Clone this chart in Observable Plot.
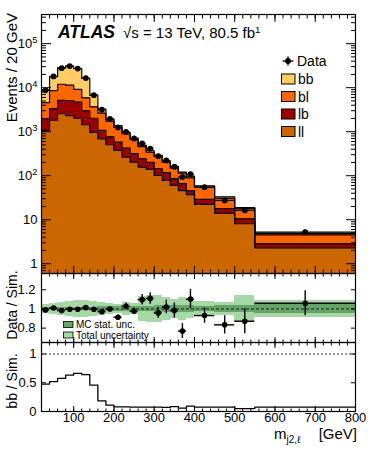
<!DOCTYPE html>
<html>
<head>
<meta charset="utf-8">
<script src="https://cdn.jsdelivr.net/npm/d3@7"></script>
<script src="https://cdn.jsdelivr.net/npm/@observablehq/plot@0.6"></script>
<style>
  html, body { margin: 0; padding: 0; background: #fff; }
  #wrap { position: relative; width: 374px; height: 456px; font-family: "Liberation Sans", Arial, Helvetica, sans-serif; }
  #wrap svg { position: absolute; left: 0; overflow: visible; background: transparent; }
</style>
</head>
<body>
<div id="wrap"></div>
<script>
// ---------------- data ----------------
const binEdges = [20,40,60,80,100,120,140,160,180,200,220,240,260,280,300,320,340,360,380,400,450,500,550,800];
const dataPerBin = [8700,18000,27700,31000,27200,16500,6770,3150,1950,1250,990,700,545,410,280,222,160,93,108,55,27.5,16.3,5.2];
const dataOverSim = [0.99,1.01,0.983,0.997,0.997,1.014,0.997,0.972,1.0,0.914,1.028,0.976,1.097,1.11,0.959,1.02,0.983,0.769,1.103,0.931,0.834,0.872,1.059];
const dataOverSimErr = [0.004,0.004,0.004,0.004,0.004,0.005,0.008,0.012,0.015,0.024,0.034,0.033,0.055,0.06,0.057,0.07,0.08,0.078,0.1,0.08,0.095,0.13,0.13];
const simBB = [4190,9270,16200,19710,18090,10410,3120,603,215,109,77,54,37,28,22,16,14,7,9,4.4,2.5,0.94,0.37];
const simBL = [2620,5210,6830,6260,4500,2870,1650,1570,975,679,462,347,217,139,126,85,64,48,43,25.7,12.7,7.3,1.7];
const simLB = [905,1520,2590,2790,2670,1550,1050,380,255,204,159,112,86,62,43,39,25,20,9,6.6,3.7,2.4,0.54];
const simLL = [1075,1820,2560,2330,2020,1440,970,690,505,376,265,204,157,140,101,78,60,46,37,22.3,14.1,8.1,2.3];
const totalUnc = [0.05,0.06,0.065,0.08,0.085,0.085,0.075,0.07,0.055,0.05,0.07,0.055,0.13,0.14,0.14,0.12,0.10,0.12,0.10,0.075,0.07,0.145,0.088];
const statUnc = [0.02,0.02,0.02,0.02,0.02,0.02,0.02,0.022,0.024,0.025,0.026,0.027,0.028,0.03,0.032,0.034,0.035,0.036,0.038,0.03,0.035,0.04,0.046];

const componentNames = ["bb","bl","lb","ll"];
const componentColors = {bb: "#ffcc66", bl: "#ff6600", lb: "#990000", ll: "#cc6600"};
const uncNames = ["MC stat. unc.", "Total uncertainty"];
const uncColors = ["#66a366", "#a6d8a6"];

const xMajorTicks = [100,200,300,400,500,600,700,800];
const xMinorTicks = d3.range(20, 801, 20);
const yMainTicks = [1,10,100,1000,10000,100000];
const yMainTickLabels = ["1","10","10^2","10^3","10^4","10^5"];
const ratioTicks = [0.8,1,1.2];
const ratioTickLabels = ["0.8","1","1.2"];
const fracTicks = [0,0.5,1];
const fracTickLabels = ["0","0.5","1"];

// ---------------- layout ----------------
const W = 374, ML = 41, MR = 19;
const yMainDomain = [0.6, 4.6e5];
const yRatioDomain = [0.65, 1.37];
const yFracDomain = [0, 1.2];
const FONT = '"Liberation Sans", Arial, Helvetica, sans-serif';

const yMinorMain = [];
for (let k = -1; k <= 5; k++) for (let m = 2; m <= 9; m++) {
  const v = m * Math.pow(10, k);
  if (v > yMainDomain[0] && v < yMainDomain[1]) yMinorMain.push(v);
}

const nb = dataPerBin.length;
const bins = d3.range(nb).map(i => {
  const b = {
    x1: binEdges[i], x2: binEdges[i+1], c: (binEdges[i] + binEdges[i+1]) / 2,
    data: dataPerBin[i], r: dataOverSim[i], re: dataOverSimErr[i],
    bb: simBB[i], bl: simBL[i], lb: simLB[i], ll: simLL[i],
    tu: totalUnc[i], su: statUnc[i]
  };
  b.sim = b.bb + b.bl + b.lb + b.ll;
  b.frac = b.bb / b.sim;
  b.de = b.data * b.re / b.r;
  return b;
});

// stacked layers, bottom -> top
const stackOrder = ["ll","lb","bl","bb"];
const rects = [], steps = [];
stackOrder.forEach((k, j) => {
  bins.forEach((b, i) => {
    let lo = 0;
    for (let m = 0; m < j; m++) lo += b[stackOrder[m]];
    const hi = lo + b[k];
    rects.push({x1: b.x1, x2: b.x2, y1: j === 0 ? yMainDomain[0] : lo, y2: hi, k});
    steps.push({k, x: b.x1, y: hi});
    if (i === nb - 1) steps.push({k, x: b.x2, y: hi});
  });
});
const fracSteps = bins.map(b => ({x: b.x1, y: b.frac}));
fracSteps.push({x: bins[nb-1].x2, y: bins[nb-1].frac});

// ---------------- helpers ----------------
const blank = () => "";
function xFrameTicks(majLen, minLen) {
  return [
    Plot.axisX({anchor: "bottom", ticks: xMajorTicks, tickSize: majLen, dy: -majLen, tickFormat: blank, label: null}),
    Plot.axisX({anchor: "bottom", ticks: xMinorTicks, tickSize: minLen, dy: -minLen, tickFormat: blank, label: null}),
    Plot.axisX({anchor: "top", ticks: xMajorTicks, tickSize: majLen, dy: majLen, tickFormat: blank, label: null}),
    Plot.axisX({anchor: "top", ticks: xMinorTicks, tickSize: minLen, dy: minLen, tickFormat: blank, label: null})
  ];
}
function yFrameTicks(ticks, len, minor, minLen) {
  const out = [
    Plot.axisY({anchor: "left", ticks, tickSize: len, dx: len, tickFormat: blank, label: null}),
    Plot.axisY({anchor: "right", ticks, tickSize: len, dx: -len, tickFormat: blank, label: null})
  ];
  if (minor) out.push(
    Plot.axisY({anchor: "left", ticks: minor, tickSize: minLen, dx: minLen, tickFormat: blank, label: null}),
    Plot.axisY({anchor: "right", ticks: minor, tickSize: minLen, dx: -minLen, tickFormat: blank, label: null})
  );
  return out;
}
const baseStyle = {fontFamily: FONT, fontSize: "13px", color: "black", background: "transparent", overflow: "visible"};

// ---------------- main panel ----------------
const mainLabelMap = new Map(yMainTicks.map((t, i) => [t, yMainTickLabels[i]]));
const mainSvg = Plot.plot({
  width: W, height: 273, marginTop: 14, marginBottom: 0, marginLeft: ML, marginRight: MR,
  style: baseStyle,
  x: {domain: [20, 800]},
  y: {type: "log", domain: yMainDomain},
  marks: [
    Plot.rect(rects, {x1: "x1", x2: "x2", y1: "y1", y2: "y2", fill: d => componentColors[d.k], shapeRendering: "crispEdges"}),
    Plot.line(steps, {x: "x", y: "y", z: "k", curve: "step-after", stroke: "black", strokeWidth: 1.2}),
    Plot.ruleX(bins, {x: "c", y1: d => d.data - d.de, y2: d => d.data + d.de, stroke: "black", strokeWidth: 1.4}),
    Plot.ruleY(bins, {y: "data", x1: "x1", x2: "x2", stroke: "black", strokeWidth: 1.2}),
    Plot.dot(bins, {x: "c", y: "data", r: 2.9, fill: "black", stroke: "none"}),
    Plot.frame({stroke: "black", strokeWidth: 1.2}),
    ...xFrameTicks(7, 3.5),
    ...yFrameTicks(yMainTicks, 10, yMinorMain, 5),
    Plot.axisY({anchor: "left", ticks: yMainTicks, tickSize: 0, tickPadding: 4, tickFormat: d => mainLabelMap.get(d), label: null, fontSize: 13})
  ]
});

// ---------------- ratio panel ----------------
const ratioLabelMap = new Map(ratioTicks.map((t, i) => [t, ratioTickLabels[i]]));
const ratioSvg = Plot.plot({
  width: W, height: 69, marginTop: 0, marginBottom: 0, marginLeft: ML, marginRight: MR,
  style: baseStyle,
  x: {domain: [20, 800]},
  y: {domain: yRatioDomain},
  marks: [
    Plot.rect(bins, {x1: "x1", x2: "x2", y1: d => 1 - d.tu, y2: d => 1 + d.tu, fill: uncColors[1], shapeRendering: "crispEdges"}),
    Plot.rect(bins, {x1: "x1", x2: "x2", y1: d => 1 - d.su, y2: d => 1 + d.su, fill: uncColors[0], shapeRendering: "crispEdges"}),
    Plot.ruleY([1], {stroke: "#222", strokeWidth: 1, strokeDasharray: "3,2"}),
    Plot.ruleX(bins, {x: "c", y1: d => d.r - d.re, y2: d => d.r + d.re, stroke: "black", strokeWidth: 1.4}),
    Plot.ruleY(bins, {y: "r", x1: "x1", x2: "x2", stroke: "black", strokeWidth: 1.4}),
    Plot.dot(bins, {x: "c", y: "r", r: 2.8, fill: "black", stroke: "none"}),
    Plot.frame({stroke: "black", strokeWidth: 1.2}),
    ...xFrameTicks(5, 2.5),
    ...yFrameTicks(ratioTicks, 5),
    Plot.axisY({anchor: "left", ticks: ratioTicks, tickSize: 0, tickPadding: 6, tickFormat: d => ratioLabelMap.get(d), label: null, fontSize: 13})
  ]
});

// ---------------- bb fraction panel ----------------
const fracLabelMap = new Map(fracTicks.map((t, i) => [t, fracTickLabels[i]]));
const fracSvg = Plot.plot({
  width: W, height: 114, marginTop: 0, marginBottom: 45, marginLeft: ML, marginRight: MR,
  style: baseStyle,
  x: {domain: [20, 800]},
  y: {domain: yFracDomain},
  marks: [
    Plot.ruleY([1], {stroke: "#222", strokeWidth: 0.9, strokeDasharray: "2,2"}),
    Plot.line(fracSteps, {x: "x", y: "y", curve: "step-after", stroke: "black", strokeWidth: 1.3}),
    Plot.frame({stroke: "black", strokeWidth: 1.2}),
    ...xFrameTicks(5, 2.5),
    ...yFrameTicks(fracTicks, 5),
    Plot.axisY({anchor: "left", ticks: fracTicks, tickSize: 0, tickPadding: 5, tickFormat: d => fracLabelMap.get(d), label: null, fontSize: 13}),
    Plot.axisX({anchor: "bottom", ticks: xMajorTicks, tickSize: 0, tickPadding: 1.5, label: null, fontSize: 13})
  ]
});

// ---------------- assemble ----------------
const wrap = document.getElementById("wrap");
[[mainSvg, 0], [ratioSvg, 273], [fracSvg, 342]].forEach(([s, top]) => {
  s.style.top = top + "px";
  s.style.maxWidth = "none";
  wrap.appendChild(s);
});

// superscripts for log labels
d3.select(mainSvg).selectAll("text").each(function() {
  const t = this.textContent;
  if (t.includes("^")) {
    const [base, exp] = t.split("^");
    const sel = d3.select(this);
    sel.text(base);
    sel.append("tspan").attr("dy", "-0.55em").attr("font-size", "0.72em").text(exp);
  }
});

function addText(svg, attrs, content) {
  const t = d3.select(svg).append("text").attr("font-family", FONT).attr("fill", "black").attr("text-anchor", "start");
  Object.entries(attrs).forEach(([k, v]) => t.attr(k, v));
  if (content != null) t.text(content);
  return t;
}

// main panel texts
addText(mainSvg, {x: 58, y: 37.5, "font-size": 17.5, "font-weight": "bold", "font-style": "italic"}, "ATLAS");
const lumi = addText(mainSvg, {x: 123, y: 37.5, "font-size": 15}, "√s = 13 TeV, 80.5 fb");
lumi.append("tspan").attr("dy", "-0.5em").attr("font-size", "0.65em").text("1");
addText(mainSvg, {transform: "translate(12,13) rotate(-90)", "text-anchor": "end", dy: "0.36em", "font-size": 15}, "Events / 20 GeV");

// main legend
const mg = d3.select(mainSvg).append("g");
mg.append("line").attr("x1", 282.5).attr("x2", 293.5).attr("y1", 61).attr("y2", 61).attr("stroke", "black").attr("stroke-width", 1.3);
mg.append("line").attr("x1", 288).attr("x2", 288).attr("y1", 56.5).attr("y2", 65.5).attr("stroke", "black").attr("stroke-width", 1.3);
mg.append("circle").attr("cx", 288).attr("cy", 61).attr("r", 2.9).attr("fill", "black");
addText(mainSvg, {x: 297, y: 61, dy: "0.36em", "font-size": 14}, "Data");
componentNames.forEach((k, i) => {
  const cy = 79 + i * 17.5;
  mg.append("rect").attr("x", 281.5).attr("y", cy - 5).attr("width", 13.5).attr("height", 10)
    .attr("fill", componentColors[k]).attr("stroke", "black").attr("stroke-width", 1);
  addText(mainSvg, {x: 298, y: cy, dy: "0.36em", "font-size": 14}, k);
});

// ratio panel texts (coordinates inside ratio svg)
addText(ratioSvg, {transform: "translate(12,32) rotate(-90)", "text-anchor": "middle", dy: "0.36em", "font-size": 14}, "Data / Sim.");
uncNames.forEach((name, i) => {
  const cy = 51.5 + i * 10.5;
  d3.select(ratioSvg).append("rect").attr("x", 63.5).attr("y", cy - 3).attr("width", 9.5).attr("height", 6)
    .attr("fill", uncColors[i]).attr("stroke", "black").attr("stroke-width", 0.8);
  addText(ratioSvg, {x: 76, y: cy, dy: "0.36em", "font-size": 10}, name);
});

// bottom panel texts
addText(fracSvg, {transform: "translate(12,39) rotate(-90)", "text-anchor": "middle", dy: "0.36em", "font-size": 14}, "bb / Sim.");
const xt = addText(fracSvg, {x: 274, y: 96.5, "font-size": 15}, "m");
xt.append("tspan").attr("dy", 4).attr("font-size", 10).text("j2,ℓ");
addText(fracSvg, {x: 357, y: 96.5, "text-anchor": "end", "font-size": 15}, "[GeV]");
</script>
</body>
</html>
